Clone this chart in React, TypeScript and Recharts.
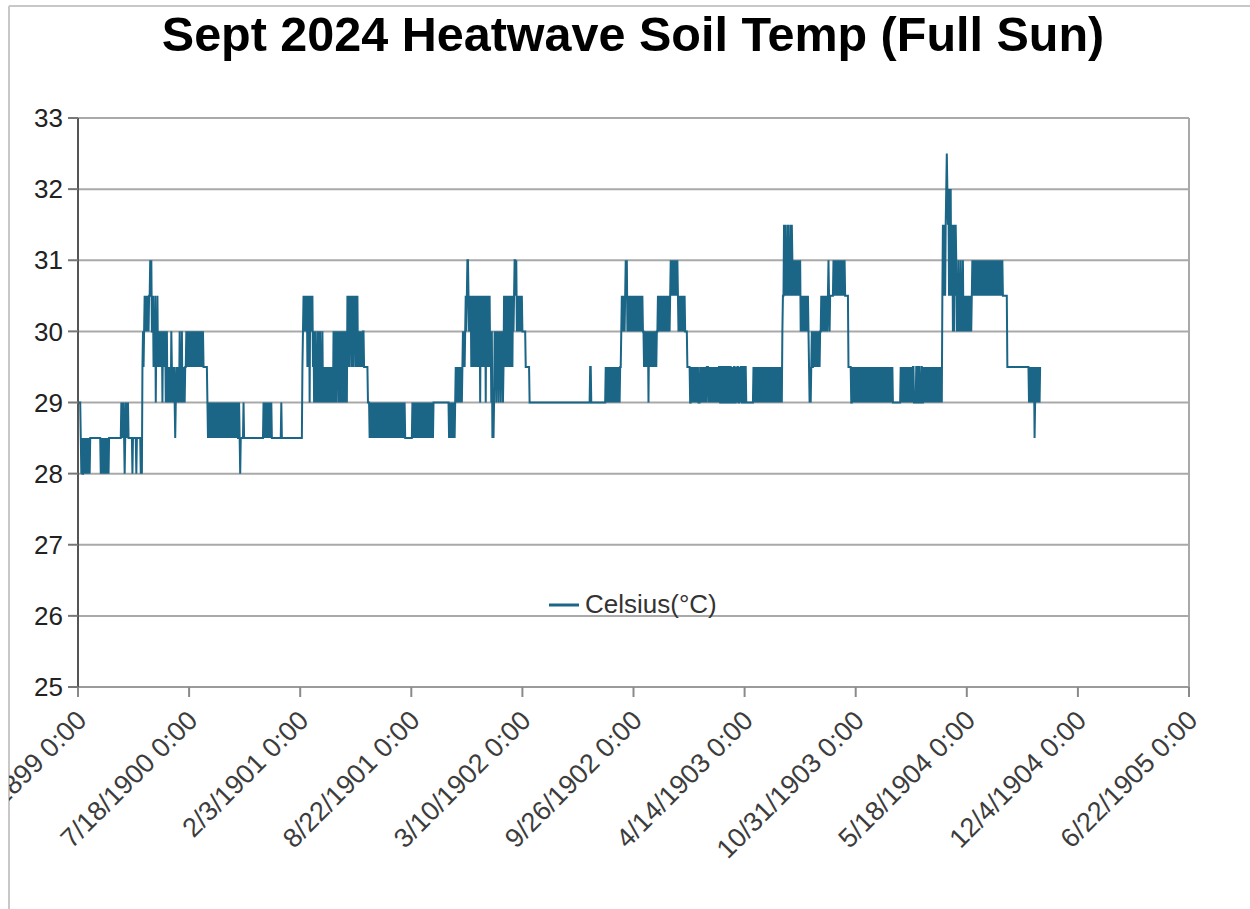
import React from "react";
import { LineChart, Line, XAxis, YAxis, CartesianGrid, Legend, ReferenceLine } from "recharts";

// Temperature levels: reading code digit -> °C
const levelValues = [28, 28.5, 29, 29.5, 30, 30.5, 31, 31.5, 32, 32.5];

// Readings (5-minute samples), one code digit per sample
const day1Readings = [
  "2222", "1010", "01010101010101",
  "1111111111", "11111111",
  "0101010101010101",
  "1111111111", "1111111111",
  "12121210121212",
  "1111111011111101111111",
  "010",
  "3434545454545", "56564",
  "45343524353434", "3434243434234",
  "2323232432", "3232123232", "3242324232", "323",
  "3434343434", "3434343434", "3434343434", "34",
  "3333333",
  "2121212121", "2121212121", "2121212121", "2121212121", "2121212121", "212121",
].join("");

const day2Readings = [
  "1210111",
  "112", "1111111111", "1111111111", "1111111111", "11111",
  "2121212121212121",
  "1111111111", "11111",
  "121",
  "1111111111", "1111111111", "1111111111", "111111",
  "34545454535452545453",
  "424242324242423242",
  "323232323232323232",
  "4242424342424242342424242",
  "53535453535354535353",
  "4343434344333333",
  "322212121",
  "2121212121", "2121212121", "2121212121", "2121212121", "2121212",
].join("");

const day3Readings = [
  "1212121212121",
  "111111111111",
  "2121212121", "2121212121", "2121212121", "21212121",
  "2222222222", "2222222222", "2222222",
  "2121212121212",
  "323232323232",
  "343434545",
  "665454",
  "535353535353",
  "535352535353535253535353",
  "424", "121",
  "24342434243424342",
  "3535353535353",
  "5353545",
  "6656",
  "45454545454",
  "44444",
  "333333322",
  "2222222222", "2222222222", "2222222222", "2222222222", "2222222222",
].join("");

const day4Readings = [
  "2222222222", "2222222222", "2222222222", "2222222222", "2222222222", "222222",
  "2332",
  "2222222222", "2222222222", "22222",
  "323232323232323232323232323",
  "345454545",
  "656",
  "45454545454545454545454545454",
  "4343434342434343434343434",
  "454545454545454545454545",
  "65656565656565",
  "4545454545454",
  "444333332",
  "2323232323", "2323222323", "2323232323", "3323232323", "2323232323",
].join("");

const day5Readings = [
  "2332233223", "3223322332", "2332232233", "2232332232", "3322332233", "2222",
  "222222222",
  "3232323232", "3232323232", "3232323232", "3232323232", "3232323232", "32",
  "45",
  "5757565757565757",
  "656565656565656",
  "45454545454545",
  "43232343",
  "34343434343434",
  "454545454545",
  "456545",
  "55555",
  "6565656565656565656565",
  "55555",
  "3333322",
  "3232323232", "3232323232", "3232323232", "3232323232", "3232323",
].join("");

const day6Readings = [
  "232323232323232323232323232",
  "2222222222222",
  "323232323232323232323",
  "23322223322332223322",
  "3232323232", "3232323232", "3232323232", "3232",
  "576575",
  "78987",
  "8585856",
  "7474757",
  "6454645464546",
  "4545454545454545",
  "6565656565", "6565656565", "6565656565", "6565656565", "6565656565", "656565",
  "5555555",
  "3333333333", "3333333333", "3333333333", "33333333",
  "3232323232312323232323",
].join("");

const allReadings = day1Readings + day2Readings + day3Readings + day4Readings + day5Readings + day6Readings;

const chartData = allReadings.split("").map((c, i) => ({ x: i + 1, celsius: levelValues[Number(c)] }));

const yTicks = [25, 26, 27, 28, 29, 30, 31, 32, 33];
const xTickValues = [0, 200, 400, 600, 800, 1000, 1200, 1400, 1600, 1800, 2000];
const xTickLabels = [
  "12/30/1899 0:00", "7/18/1900 0:00", "2/3/1901 0:00", "8/22/1901 0:00",
  "3/10/1902 0:00", "9/26/1902 0:00", "4/14/1903 0:00", "10/31/1903 0:00",
  "5/18/1904 0:00", "12/4/1904 0:00", "6/22/1905 0:00",
];

const titleText = "Sept 2024 Heatwave Soil Temp (Full Sun)";
const seriesName = "Celsius(°C)";

const FONT = "'Liberation Sans', Arial, Helvetica, sans-serif";
const LINE_COLOR = "#1b6586";
const GRID_COLOR = "#a9a9a9";

function XTick(props: any) {
  const { x, y, payload } = props;
  const idx = xTickValues.indexOf(payload.value);
  const label = idx >= 0 ? xTickLabels[idx] : String(payload.value);
  const ax = x + 10;
  const ay = y + 25;
  return (
    <text
      x={ax}
      y={ay}
      transform={`rotate(-45, ${ax}, ${ay})`}
      textAnchor="end"
      fontSize={27}
      fill="#3c3c3c"
      fontFamily={FONT}
    >
      {label}
    </text>
  );
}

function LegendContent() {
  return (
    <svg width={1241} height={40} style={{ display: "block" }}>
      <line x1={540} x2={570} y1={20} y2={20} stroke={LINE_COLOR} strokeWidth={3} />
      <text x={576} y={28} fontSize={26} fill="#333" fontFamily={FONT}>
        {seriesName}
      </text>
    </svg>
  );
}

export default function App() {
  return (
    <div style={{ position: "absolute", left: 0, top: 0, width: 1250, height: 909, background: "#fff" }}>
      <svg width={1250} height={909} style={{ position: "absolute", left: 0, top: 0 }}>
        <line x1={9} x2={9} y1={6} y2={909} stroke="#c8c8c8" strokeWidth={2} />
        <line x1={9} x2={1250} y1={6} y2={6} stroke="#c8c8c8" strokeWidth={2} />
        <text x={633} y={51} textAnchor="middle" fontSize={48.5} fontWeight="bold" fill="#000" fontFamily={FONT}>
          {titleText}
        </text>
      </svg>
      <div style={{ position: "absolute", left: 9, top: 6, width: 1241, height: 903, overflow: "hidden" }}>
        <LineChart
          width={1241}
          height={903}
          data={chartData}
          margin={{ top: 112, right: 61, bottom: 22, left: 9 }}
        >
          <CartesianGrid horizontal={true} vertical={false} stroke={GRID_COLOR} strokeWidth={2} />
          <XAxis
            type="number"
            dataKey="x"
            domain={[0, 2000]}
            ticks={xTickValues}
            interval={0}
            height={200}
            tickSize={10}
            tickMargin={0}
            tick={<XTick />}
            axisLine={{ stroke: "#9a9a9a", strokeWidth: 2 }}
            tickLine={{ stroke: "#8a8a8a", strokeWidth: 2 }}
            allowDataOverflow
          />
          <YAxis
            domain={[25, 33]}
            ticks={yTicks}
            interval={0}
            width={60}
            tickSize={10}
            tickMargin={5}
            tick={{ fontSize: 26, fill: "#222", fontFamily: FONT }}
            axisLine={{ stroke: "#555", strokeWidth: 2 }}
            tickLine={{ stroke: "#777", strokeWidth: 2 }}
            allowDataOverflow
          />
          <ReferenceLine x={2000} stroke={GRID_COLOR} strokeWidth={2} />
          <Legend
            layout="horizontal"
            verticalAlign="middle"
            align="center"
            content={<LegendContent />}
            wrapperStyle={{ position: "absolute", left: 0, top: 579, width: 1241, height: 40 }}
          />
          <Line
            type="linear"
            dataKey="celsius"
            name={seriesName}
            stroke={LINE_COLOR}
            strokeWidth={2}
            dot={false}
            activeDot={false}
            isAnimationActive={false}
          />
        </LineChart>
      </div>
    </div>
  );
}
